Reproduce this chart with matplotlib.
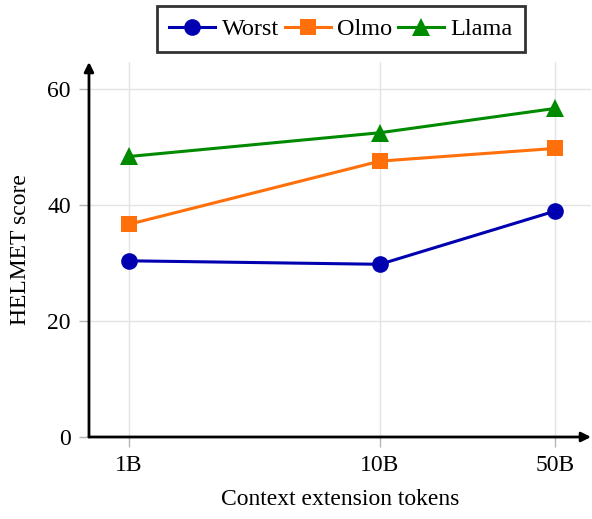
import matplotlib
matplotlib.use("Agg")
import matplotlib.pyplot as plt
from matplotlib.ticker import FixedLocator, NullLocator

plt.rcParams["font.family"] = ["Liberation Serif", "DejaVu Serif"]

# Context extension budget (billions of tokens)
tokens = [1, 10, 50]
tick_labels = ["1B", "10B", "50B"]

worst = [30.4, 29.8, 39.0]
olmo = [36.7, 47.6, 49.8]
llama = [48.4, 52.5, 56.7]

series = [
    ("Worst", worst, "#0000b0", "o"),
    ("Olmo", olmo, "#ff6f0a", "s"),
    ("Llama", llama, "#008a00", "^"),
]

fig = plt.figure(figsize=(5.92, 5.19), dpi=100)
ax = fig.add_axes([0.1503, 0.158, 0.848, 0.7225])

for name, vals, color, marker in series:
    ms = 12 if marker != "^" else 13
    ax.plot(tokens, vals, color=color, lw=2.2, marker=marker, ms=ms,
            markeredgewidth=0, label=name, zorder=3)

ax.set_xscale("log")
ax.set_xlim(0.693, 69.3)
ax.set_ylim(0, 64.7)

ax.xaxis.set_major_locator(FixedLocator(tokens))
ax.xaxis.set_minor_locator(NullLocator())
ax.set_xticklabels(tick_labels)
ax.set_yticks([0, 20, 40, 60])

ax.grid(True, color="#e3e3e3", lw=1.0, zorder=0)
ax.tick_params(axis="both", which="major", direction="out", length=7,
               width=1.0, color="#b5b5b5", labelsize=17, pad=6)

for side in ("top", "right", "left", "bottom"):
    ax.spines[side].set_visible(False)

# axis lines with arrow heads
arrow = dict(arrowstyle="-|>", color="black", lw=2.0, mutation_scale=14,
             shrinkA=0, shrinkB=0)
ax.annotate("", xy=(1.0, 0), xytext=(0, 0), xycoords="axes fraction",
            textcoords="axes fraction", arrowprops=arrow, zorder=5,
            annotation_clip=False)
ax.annotate("", xy=(0, 1.0), xytext=(0, 0), xycoords="axes fraction",
            textcoords="axes fraction", arrowprops=arrow, zorder=5,
            annotation_clip=False)

ax.set_xlabel("Context extension tokens", fontsize=17, labelpad=9)
ax.set_ylabel("HELMET score", fontsize=17, labelpad=12)

leg = ax.legend(loc="center", bbox_to_anchor=(0.502, 1.088), ncol=3,
                fontsize=17.5, frameon=True, fancybox=False,
                edgecolor="black", handlelength=1.9, handletextpad=0.25,
                columnspacing=0.25, borderpad=0.5, borderaxespad=0)
leg.get_frame().set_linewidth(2.0)

fig.savefig("out.png", dpi=100)
